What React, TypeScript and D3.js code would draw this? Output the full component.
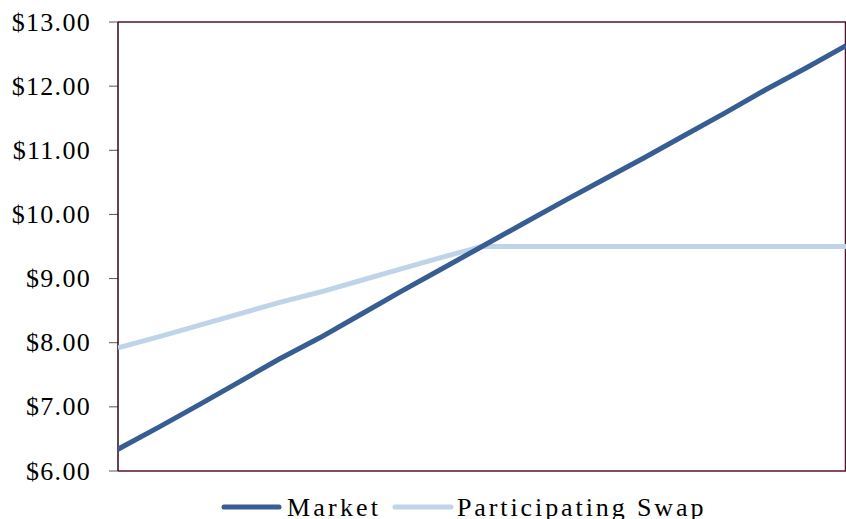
import React from "react";
import * as d3 from "d3";

const xIndex = d3.range(19);
const market = [6.34, 6.68, 7.03, 7.39, 7.75, 8.08, 8.44, 8.8, 9.15, 9.5, 9.85, 10.2, 10.54, 10.88, 11.23, 11.58, 11.94, 12.28, 12.63];
const swap = [7.92, 8.09, 8.27, 8.45, 8.63, 8.79, 8.97, 9.15, 9.33, 9.5, 9.5, 9.5, 9.5, 9.5, 9.5, 9.5, 9.5, 9.5, 9.5];
const yTicks = [6, 7, 8, 9, 10, 11, 12, 13];
const seriesNames = ["Market", "Participating Swap"];
const colors = ["#385d92", "#c0d4e9"];

export default function App() {
  const W = 846, H = 519;
  const left = 118, right = 846, top = 22, bottom = 471;
  const x = d3.scaleLinear().domain([0, 18]).range([left, right]);
  const y = d3.scaleLinear().domain([6, 13]).range([bottom, top]);
  const line = d3.line<number>().x((_, i) => x(xIndex[i])).y((d) => y(d));
  const font = "'Liberation Serif', 'Times New Roman', serif";
  return (
    <svg width={W} height={H} style={{ position: "absolute", left: 0, top: 0 }}>
      <rect width={W} height={H} fill="#fff" />
      <defs>
        <clipPath id="pc"><rect x={left} y={top - 5} width={right - left} height={bottom - top + 10} /></clipPath>
      </defs>
      {yTicks.map((t) => (
        <g key={t}>
          <line x1={left - 9} x2={left} y1={y(t)} y2={y(t)} stroke="#555" strokeWidth={1} />
          <text x={91} y={y(t) + 8.5} textAnchor="end" fontFamily={font} fontSize={26} letterSpacing={1.3} fill="#000">
            {"$" + t.toFixed(2)}
          </text>
        </g>
      ))}
      <line x1={left} x2={right} y1={top} y2={top} stroke="#5a1030" strokeWidth={1.5} />
      <line x1={left} x2={right} y1={bottom} y2={bottom} stroke="#5a1030" strokeWidth={1.5} />
      <line x1={right - 0.5} x2={right - 0.5} y1={top} y2={bottom} stroke="#5a1030" strokeWidth={1.5} />
      <line x1={left} x2={left} y1={top} y2={bottom} stroke="#2a0a14" strokeWidth={1.5} />
      <g clipPath="url(#pc)">
        <path d={line(swap) || ""} fill="none" stroke={colors[1]} strokeWidth={5} strokeLinejoin="round" />
        <path d={line(market) || ""} fill="none" stroke={colors[0]} strokeWidth={5} strokeLinejoin="round" />
      </g>
      <line x1={224} x2={279} y1={507} y2={507} stroke={colors[0]} strokeWidth={5} strokeLinecap="round" />
      <text x={287} y={516} fontFamily={font} fontSize={26} letterSpacing={3.2} fill="#000">{seriesNames[0]}</text>
      <line x1={395} x2={451} y1={507} y2={507} stroke={colors[1]} strokeWidth={5} strokeLinecap="round" />
      <text x={457} y={516} fontFamily={font} fontSize={26} letterSpacing={2.9} fill="#000">{seriesNames[1]}</text>
    </svg>
  );
}
